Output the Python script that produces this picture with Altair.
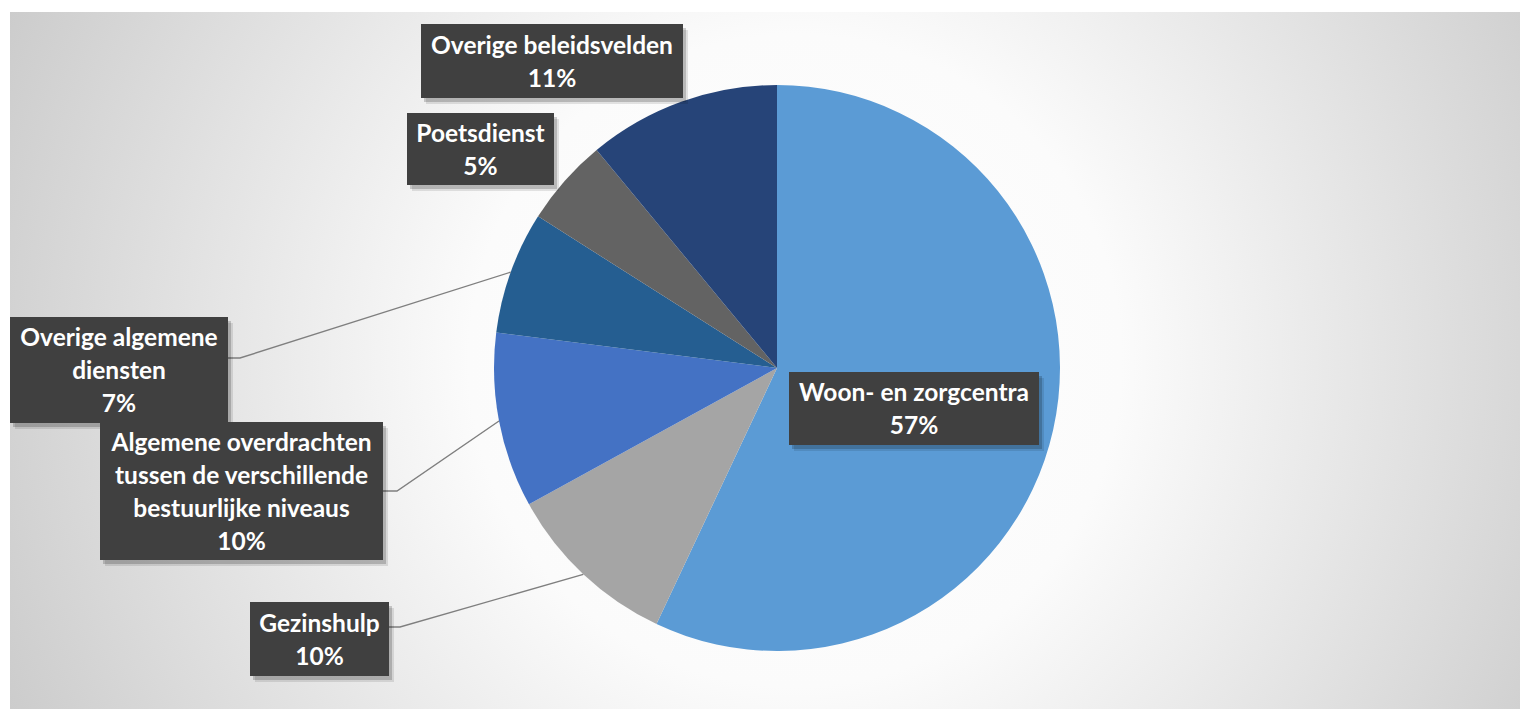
import math
import altair as alt
import pandas as pd

# ---- data ----
categories = [
    "Woon- en zorgcentra",
    "Gezinshulp",
    "Algemene overdrachten tussen de verschillende bestuurlijke niveaus",
    "Overige algemene diensten",
    "Poetsdienst",
    "Overige beleidsvelden",
]
label_lines = [
    ["Woon- en zorgcentra"],
    ["Gezinshulp"],
    ["Algemene overdrachten", "tussen de verschillende", "bestuurlijke niveaus"],
    ["Overige algemene", "diensten"],
    ["Poetsdienst"],
    ["Overige beleidsvelden"],
]
values = [57, 10, 10, 7, 5, 11]
colors = ["#5B9BD5", "#A5A5A5", "#4472C4", "#255E91", "#636363", "#264478"]

# ---- layout (pixels inside the chart) ----
W, H = 1512, 701
CX, CY, R = 769, 360, 283
LH = 33
boxes = [  # x, x2, y, y2 of each label box
    (781, 1031, 364, 437),
    (242, 381, 594, 668),
    (92, 375, 414, 552),
    (2, 220, 309, 415),
    (399, 546, 105, 177),
    (413, 675, 16, 90),
]
leader_start = {  # box edge point and elbow for labels outside the pie
    1: [(381, 619), (392, 619)],
    2: [(375, 483), (389, 483)],
    3: [(220, 350), (232, 350)],
}

pie_df = pd.DataFrame({
    "cat": categories,
    "value": values,
    "idx": list(range(len(values))),
})

lab_rows = []
for i, (lines, v, b) in enumerate(zip(label_lines, values, boxes)):
    all_lines = lines + [f"{v}%"]
    n = len(all_lines)
    lab_rows.append({
        "x": b[0], "x2": b[1], "y": b[2], "y2": b[3],
        "tx": (b[0] + b[1]) / 2,
        "ty": (b[2] + b[3]) / 2 - (n - 1) * LH / 2 + 2,
        "label": "\n".join(all_lines),
    })
lab_df = pd.DataFrame(lab_rows)

total = sum(values)
cum = 0
lead_rows = []
for i, v in enumerate(values):
    mid = (cum + v / 2) / total * 2 * math.pi
    cum += v
    if i in leader_start:
        pts = leader_start[i] + [(CX + R * math.sin(mid), CY - R * math.cos(mid))]
        for k, (px, py) in enumerate(pts):
            lead_rows.append({"seg": i, "ord": k, "x": px, "y": py})
lead_df = pd.DataFrame(lead_rows)

xs = alt.Scale(domain=[0, W], range=[0, W], zero=False, nice=False)
ys = alt.Scale(domain=[0, H], reverse=True, zero=False, nice=False)

bg = alt.Chart(pd.DataFrame({"a": [0]})).mark_rect(
    fill=alt.RadialGradient(
        gradient="radial",
        x1=0.52, y1=0.5, r1=0.0, x2=0.52, y2=0.5, r2=0.72,
        stops=[
            alt.GradientStop(offset=0.0, color="#FFFFFF"),
            alt.GradientStop(offset=0.3, color="#FBFBFB"),
            alt.GradientStop(offset=1.0, color="#B8B8B8"),
        ],
    )
).encode(x=alt.value(2), x2=alt.value(W), y=alt.value(4), y2=alt.value(H))

pie = alt.Chart(pie_df).mark_arc(radius=R).encode(
    theta=alt.Theta("value:Q", stack=True),
    color=alt.Color("cat:N", scale=alt.Scale(domain=categories, range=colors), legend=None),
    order=alt.Order("idx:Q"),
    x=alt.value(CX),
    y=alt.value(CY),
)

leaders = alt.Chart(lead_df).mark_line(color="#7F7F7F", strokeWidth=1.4).encode(
    x=alt.X("x:Q", scale=xs, axis=None),
    y=alt.Y("y:Q", scale=ys, axis=None),
    detail="seg:N",
    order="ord:Q",
)

def box_layer(dx, dy, color, opacity):
    return alt.Chart(lab_df).mark_rect(
        color=color, opacity=opacity,
        xOffset=dx, x2Offset=dx, yOffset=dy, y2Offset=dy,
    ).encode(
        x=alt.X("x:Q", scale=xs, axis=None), x2="x2:Q",
        y=alt.Y("y:Q", scale=ys, axis=None), y2="y2:Q",
    )

shadow1 = box_layer(5, 6, "#000000", 0.10)
shadow2 = box_layer(3, 4, "#000000", 0.18)
boxes_l = box_layer(0, 0, "#404040", 1.0)

texts = alt.Chart(lab_df).mark_text(
    font="Lato", fontSize=24.5, fontWeight="bold", color="white",
    lineBreak="\n", lineHeight=LH, align="center", baseline="middle",
).encode(
    x=alt.X("tx:Q", scale=xs, axis=None),
    y=alt.Y("ty:Q", scale=ys, axis=None),
    text="label:N",
)

chart = alt.layer(bg, pie, leaders, shadow1, shadow2, boxes_l, texts).properties(
    width=W, height=H, padding=0, autosize=alt.AutoSizeParams(type="none"),
    background="white",
).configure_view(stroke=None)

chart.save("out.html", embed_options={"renderer": "svg", "actions": False})
